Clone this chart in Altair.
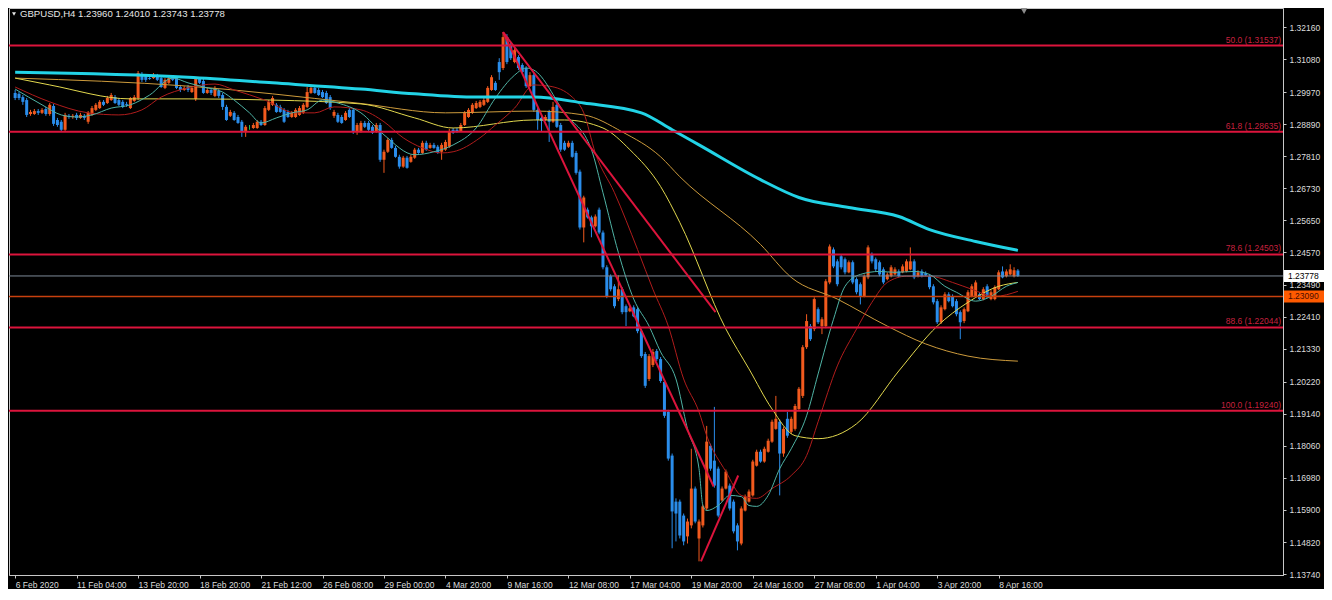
import json
import pandas as pd
import altair as alt

# ---------------- candles (H4 bars, index 0..261) ----------------
bars = list(range(262))

opens = [
    1.2994, 1.2991, 1.2980, 1.2970, 1.2923, 1.2923, 1.2933, 1.2927, 1.2940, 1.2923,
    1.2950, 1.2903, 1.2897, 1.2870, 1.2917, 1.2913, 1.2920, 1.2910, 1.2917, 1.2897,
    1.2920, 1.2937, 1.2943, 1.2964, 1.2960, 1.2970, 1.2980, 1.2970, 1.2964, 1.2957,
    1.2943, 1.2967, 1.2977, 1.3054, 1.3051, 1.3044, 1.3044, 1.3051, 1.3044, 1.3011,
    1.3028, 1.3047, 1.3044, 1.3014, 1.3004, 1.3014, 1.2997, 1.2974, 1.3041, 1.3034,
    1.2994, 1.3004, 1.2984, 1.3001, 1.2987, 1.2947, 1.2917, 1.2927, 1.2913, 1.2897,
    1.2866, 1.2878, 1.2876, 1.2876, 1.2897, 1.2886, 1.2937, 1.2954, 1.2954, 1.2947,
    1.2937, 1.2930, 1.2913, 1.2913, 1.2920, 1.2927, 1.2947, 1.2994, 1.3011, 1.3004,
    1.2997, 1.2994, 1.2980, 1.2917, 1.2920, 1.2913, 1.2903, 1.2937, 1.2937, 1.2863,
    1.2863, 1.2893, 1.2893, 1.2880, 1.2863, 1.2886, 1.2769, 1.2796, 1.2836, 1.2809,
    1.2779, 1.2746, 1.2776, 1.2762, 1.2776, 1.2803, 1.2792, 1.2826, 1.2809, 1.2819,
    1.2813, 1.2796, 1.2803, 1.2813, 1.2870, 1.2870, 1.2866, 1.2886, 1.2913, 1.2927,
    1.2943, 1.2947, 1.2954, 1.2964, 1.3004, 1.3028, 1.3098, 1.3078, 1.3182, 1.3155,
    1.3098, 1.3115, 1.3088, 1.3078, 1.3017, 1.3054, 1.2937, 1.2910, 1.2903, 1.2930,
    1.2897, 1.2954, 1.2886, 1.2826, 1.2813, 1.2826, 1.2792, 1.2729, 1.2541, 1.2601,
    1.2575, 1.2545, 1.2601, 1.2524, 1.2407, 1.2377, 1.2343, 1.2300, 1.2333, 1.2276,
    1.2259, 1.2272, 1.2266, 1.2192, 1.2115, 1.2031, 1.2078, 1.2125, 1.2098, 1.2021,
    1.1920, 1.1773, 1.1618, 1.1618, 1.1571, 1.1501, 1.1538, 1.1662, 1.1494, 1.1538,
    1.1595, 1.1806, 1.1756, 1.1729, 1.1622, 1.1662, 1.1672, 1.1618, 1.1538, 1.1477,
    1.1588, 1.1618, 1.1639, 1.1739, 1.1786, 1.1753, 1.1786, 1.1820, 1.1863, 1.1887,
    1.1780, 1.1897, 1.1853, 1.1863, 1.1930, 1.1974, 1.2138, 1.2209, 1.2199, 1.2266,
    1.2209, 1.2209, 1.2356, 1.2467, 1.2427, 1.2444, 1.2434, 1.2390, 1.2424, 1.2367,
    1.2350, 1.2309, 1.2373, 1.2451, 1.2434, 1.2424, 1.2400, 1.2367, 1.2377, 1.2383,
    1.2393, 1.2390, 1.2393, 1.2400, 1.2427, 1.2377, 1.2393, 1.2387, 1.2377, 1.2343,
    1.2293, 1.2222, 1.2266, 1.2316, 1.2309, 1.2293, 1.2256, 1.2226, 1.2259, 1.2309,
    1.2309, 1.2316, 1.2300, 1.2343, 1.2300, 1.2300, 1.2333, 1.2393, 1.2377, 1.2383,
    1.2377, 1.23960,
]

highs = [
    1.3004, 1.2997, 1.2987, 1.2977, 1.2937, 1.2940, 1.2940, 1.2943, 1.2947, 1.2960,
    1.2957, 1.2910, 1.2903, 1.2927, 1.2923, 1.2923, 1.2927, 1.2927, 1.2923, 1.2933,
    1.2950, 1.2960, 1.2970, 1.2970, 1.2984, 1.2994, 1.2987, 1.2977, 1.2970, 1.2964,
    1.2980, 1.2987, 1.3068, 1.3064, 1.3058, 1.3051, 1.3061, 1.3058, 1.3051, 1.3044,
    1.3051, 1.3054, 1.3051, 1.3021, 1.3017, 1.3021, 1.3017, 1.3047, 1.3047, 1.3041,
    1.3011, 1.3011, 1.3017, 1.3007, 1.2994, 1.2954, 1.2937, 1.2933, 1.2920, 1.2903,
    1.2886, 1.2886, 1.2893, 1.2903, 1.2903, 1.2950, 1.2970, 1.2984, 1.2960, 1.2954,
    1.2943, 1.2937, 1.2933, 1.2943, 1.2950, 1.2960, 1.3014, 1.3017, 1.3017, 1.3011,
    1.3004, 1.3001, 1.2987, 1.2937, 1.2927, 1.2920, 1.2933, 1.2943, 1.2943, 1.2893,
    1.2900, 1.2900, 1.2900, 1.2886, 1.2893, 1.2893, 1.2803, 1.2843, 1.2843, 1.2816,
    1.2786, 1.2782, 1.2782, 1.2786, 1.2809, 1.2809, 1.2833, 1.2833, 1.2826, 1.2826,
    1.2819, 1.2826, 1.2836, 1.2873, 1.2876, 1.2876, 1.2893, 1.2933, 1.2943, 1.2960,
    1.2967, 1.2970, 1.2977, 1.3017, 1.3054, 1.3034, 1.3111, 1.3199, 1.3192, 1.3162,
    1.3145, 1.3121, 1.3094, 1.3084, 1.3064, 1.3061, 1.2943, 1.2917, 1.2920, 1.2937,
    1.2964, 1.2960, 1.2893, 1.2833, 1.2833, 1.2833, 1.2799, 1.2736, 1.2648, 1.2608,
    1.2581, 1.2585, 1.2608, 1.2531, 1.2414, 1.2383, 1.2350, 1.2380, 1.2340, 1.2282,
    1.2276, 1.2279, 1.2272, 1.2199, 1.2122, 1.2115, 1.2132, 1.2132, 1.2105, 1.2028,
    1.1927, 1.1780, 1.1629, 1.1625, 1.1578, 1.1561, 1.1796, 1.1669, 1.1558, 1.1608,
    1.1873, 1.1813, 1.1937, 1.1736, 1.1669, 1.1726, 1.1679, 1.1625, 1.1545, 1.1602,
    1.1642, 1.1659, 1.1759, 1.1793, 1.1793, 1.1803, 1.1830, 1.1894, 1.1974, 1.1894,
    1.1870, 1.1920, 1.1904, 1.1947, 1.2004, 1.2145, 1.2249, 1.2216, 1.2306, 1.2272,
    1.2239, 1.2367, 1.2484, 1.2474, 1.2434, 1.2451, 1.2440, 1.2430, 1.2430, 1.2373,
    1.2356, 1.2383, 1.2481, 1.2457, 1.2440, 1.2430, 1.2407, 1.2390, 1.2414, 1.2407,
    1.2400, 1.2417, 1.2434, 1.2474, 1.2434, 1.2397, 1.2400, 1.2393, 1.2383, 1.2350,
    1.2300, 1.2279, 1.2323, 1.2323, 1.2316, 1.2300, 1.2262, 1.2272, 1.2330, 1.2350,
    1.2363, 1.2323, 1.2340, 1.2350, 1.2330, 1.2346, 1.2397, 1.2410, 1.2400, 1.2417,
    1.2407, 1.24010,
]

lows = [
    1.2970, 1.2970, 1.2954, 1.2913, 1.2917, 1.2920, 1.2920, 1.2923, 1.2917, 1.2917,
    1.2883, 1.2880, 1.2863, 1.2866, 1.2907, 1.2907, 1.2903, 1.2907, 1.2903, 1.2890,
    1.2917, 1.2933, 1.2940, 1.2950, 1.2957, 1.2967, 1.2957, 1.2950, 1.2943, 1.2947,
    1.2940, 1.2964, 1.2970, 1.3031, 1.3031, 1.3038, 1.3041, 1.3034, 1.3011, 1.3007,
    1.3024, 1.3034, 1.3007, 1.2997, 1.3001, 1.2997, 1.2994, 1.2967, 1.3024, 1.2991,
    1.2991, 1.2987, 1.2980, 1.2977, 1.2937, 1.2900, 1.2913, 1.2900, 1.2890, 1.2846,
    1.2846, 1.2870, 1.2873, 1.2873, 1.2883, 1.2883, 1.2933, 1.2950, 1.2927, 1.2927,
    1.2893, 1.2910, 1.2910, 1.2910, 1.2917, 1.2923, 1.2943, 1.2991, 1.2991, 1.2984,
    1.2977, 1.2957, 1.2937, 1.2910, 1.2893, 1.2890, 1.2900, 1.2910, 1.2856, 1.2853,
    1.2860, 1.2876, 1.2866, 1.2856, 1.2860, 1.2762, 1.2725, 1.2792, 1.2806, 1.2776,
    1.2739, 1.2742, 1.2739, 1.2759, 1.2772, 1.2789, 1.2789, 1.2799, 1.2806, 1.2806,
    1.2789, 1.2769, 1.2799, 1.2809, 1.2856, 1.2860, 1.2863, 1.2883, 1.2910, 1.2923,
    1.2940, 1.2943, 1.2950, 1.2960, 1.3001, 1.3001, 1.3038, 1.3071, 1.3091, 1.3105,
    1.3094, 1.3071, 1.3061, 1.3011, 1.3014, 1.2930, 1.2870, 1.2863, 1.2900, 1.2829,
    1.2893, 1.2876, 1.2796, 1.2799, 1.2809, 1.2776, 1.2719, 1.2534, 1.2491, 1.2571,
    1.2508, 1.2541, 1.2518, 1.2400, 1.2303, 1.2326, 1.2269, 1.2293, 1.2249, 1.2209,
    1.2256, 1.2239, 1.2185, 1.2102, 1.2001, 1.2024, 1.2071, 1.2091, 1.2018, 1.1900,
    1.1756, 1.1461, 1.1484, 1.1494, 1.1471, 1.1477, 1.1528, 1.1545, 1.1417, 1.1531,
    1.1588, 1.1722, 1.1665, 1.1565, 1.1618, 1.1659, 1.1588, 1.1511, 1.1454, 1.1471,
    1.1585, 1.1615, 1.1635, 1.1736, 1.1749, 1.1749, 1.1783, 1.1816, 1.1860, 1.1639,
    1.1769, 1.1833, 1.1846, 1.1857, 1.1927, 1.1967, 1.2132, 1.2159, 1.2192, 1.2216,
    1.2182, 1.2202, 1.2350, 1.2404, 1.2343, 1.2400, 1.2383, 1.2387, 1.2350, 1.2316,
    1.2282, 1.2306, 1.2367, 1.2420, 1.2393, 1.2377, 1.2350, 1.2363, 1.2373, 1.2380,
    1.2373, 1.2387, 1.2390, 1.2397, 1.2367, 1.2373, 1.2373, 1.2377, 1.2333, 1.2282,
    1.2216, 1.2216, 1.2262, 1.2289, 1.2272, 1.2242, 1.2165, 1.2219, 1.2256, 1.2306,
    1.2306, 1.2296, 1.2296, 1.2303, 1.2296, 1.2296, 1.2330, 1.2370, 1.2373, 1.2380,
    1.2373, 1.23743,
]

closes = [
    1.2977, 1.2977, 1.2964, 1.2920, 1.2930, 1.2933, 1.2927, 1.2937, 1.2923, 1.2954,
    1.2890, 1.2886, 1.2870, 1.2920, 1.2913, 1.2917, 1.2910, 1.2920, 1.2910, 1.2927,
    1.2943, 1.2954, 1.2964, 1.2954, 1.2977, 1.2987, 1.2960, 1.2954, 1.2947, 1.2954,
    1.2977, 1.2980, 1.3061, 1.3038, 1.3038, 1.3041, 1.3054, 1.3038, 1.3014, 1.3038,
    1.3044, 1.3038, 1.3011, 1.3004, 1.3011, 1.3004, 1.3011, 1.3041, 1.3028, 1.2994,
    1.3004, 1.2994, 1.3011, 1.2984, 1.2947, 1.2903, 1.2930, 1.2903, 1.2893, 1.2863,
    1.2880, 1.2878, 1.2886, 1.2897, 1.2886, 1.2943, 1.2964, 1.2977, 1.2930, 1.2930,
    1.2897, 1.2913, 1.2927, 1.2937, 1.2943, 1.2954, 1.2997, 1.3011, 1.2994, 1.2987,
    1.2980, 1.2960, 1.2943, 1.2930, 1.2897, 1.2893, 1.2927, 1.2913, 1.2863, 1.2886,
    1.2893, 1.2880, 1.2870, 1.2860, 1.2886, 1.2769, 1.2796, 1.2836, 1.2809, 1.2779,
    1.2746, 1.2776, 1.2742, 1.2779, 1.2803, 1.2792, 1.2826, 1.2803, 1.2819, 1.2809,
    1.2792, 1.2819, 1.2829, 1.2866, 1.2860, 1.2863, 1.2886, 1.2927, 1.2937, 1.2954,
    1.2960, 1.2964, 1.2970, 1.3011, 1.3047, 1.3004, 1.3064, 1.3182, 1.3098, 1.3111,
    1.3138, 1.3078, 1.3064, 1.3017, 1.3054, 1.2937, 1.2903, 1.2900, 1.2913, 1.2897,
    1.2947, 1.2880, 1.2803, 1.2803, 1.2826, 1.2779, 1.2725, 1.2541, 1.2642, 1.2575,
    1.2545, 1.2578, 1.2524, 1.2407, 1.2309, 1.2333, 1.2276, 1.2333, 1.2256, 1.2256,
    1.2269, 1.2242, 1.2192, 1.2108, 1.2008, 1.2108, 1.2122, 1.2098, 1.2024, 1.1907,
    1.1763, 1.1585, 1.1578, 1.1504, 1.1484, 1.1551, 1.1662, 1.1551, 1.1551, 1.1602,
    1.1820, 1.1729, 1.1672, 1.1571, 1.1662, 1.1719, 1.1595, 1.1518, 1.1484, 1.1595,
    1.1635, 1.1652, 1.1753, 1.1786, 1.1753, 1.1796, 1.1823, 1.1887, 1.1897, 1.1780,
    1.1863, 1.1840, 1.1897, 1.1940, 1.1998, 1.2138, 1.2226, 1.2165, 1.2300, 1.2222,
    1.2232, 1.2360, 1.2477, 1.2410, 1.2350, 1.2407, 1.2390, 1.2424, 1.2356, 1.2323,
    1.2309, 1.2377, 1.2474, 1.2427, 1.2400, 1.2383, 1.2356, 1.2383, 1.2407, 1.2400,
    1.2377, 1.2410, 1.2427, 1.2427, 1.2373, 1.2390, 1.2377, 1.2380, 1.2340, 1.2289,
    1.2222, 1.2272, 1.2316, 1.2293, 1.2276, 1.2249, 1.2222, 1.2266, 1.2323, 1.2343,
    1.2356, 1.2300, 1.2333, 1.2306, 1.2323, 1.2340, 1.2390, 1.2373, 1.2393, 1.2400,
    1.2397, 1.23778,
]

for arr in (opens, highs, lows, closes):
    assert len(arr) == len(bars), len(arr)

# ---------------- axis ticks ----------------
tick_bars = [0, 16, 32, 48, 64, 80, 96, 112, 128, 144, 160, 176, 192, 208, 224, 240, 256]
tick_labels = ["6 Feb 2020", "11 Feb 04:00", "13 Feb 20:00", "18 Feb 20:00", "21 Feb 12:00",
               "26 Feb 08:00", "29 Feb 00:00", "4 Mar 20:00", "9 Mar 16:00", "12 Mar 08:00",
               "17 Mar 04:00", "19 Mar 20:00", "24 Mar 16:00", "27 Mar 08:00", "1 Apr 04:00",
               "3 Apr 20:00", "8 Apr 16:00"]
y_ticks = [1.32160, 1.31080, 1.29970, 1.28890, 1.27810, 1.26730, 1.25650, 1.24570, 1.23490,
           1.22410, 1.21330, 1.20220, 1.19140, 1.18060, 1.16980, 1.15900, 1.14820, 1.13740]

# ---------------- moving averages (read at sample bars) ----------------
ma_cyan_bars = [0, 45, 67, 90, 104, 120, 135, 148, 163, 171, 178, 194, 204, 217, 230, 238, 250, 261]
ma_cyan_vals = [1.3064, 1.3047, 1.3028, 1.3007, 1.2991, 1.2980, 1.2980, 1.2960, 1.2927, 1.2870,
                1.2819, 1.2702, 1.2642, 1.2608, 1.2578, 1.2534, 1.2494, 1.2464]

ma_orange_bars = [0, 45, 89, 112, 135, 148, 158, 168, 173, 194, 202, 214, 227, 237, 248, 261]
ma_orange_vals = [1.3044, 1.3017, 1.2960, 1.2927, 1.2933, 1.2920, 1.2863, 1.2779, 1.2712, 1.2484,
                  1.2373, 1.2300, 1.2209, 1.2149, 1.2108, 1.2091]

ma_yellow_bars = [0, 9, 30, 45, 67, 90, 104, 114, 135, 143, 153, 160, 168, 173, 185, 191, 197,
                  203, 209, 219, 230, 240, 248, 256, 261]
ma_yellow_vals = [1.3044, 1.3021, 1.2974, 1.2974, 1.2970, 1.2957, 1.2910, 1.2876, 1.2903, 1.2903,
                  1.2876, 1.2803, 1.2679, 1.2558, 1.2199, 1.2065, 1.1930, 1.1840, 1.1830, 1.1880,
                  1.2058, 1.2209, 1.2289, 1.2343, 1.2356]

ma_red_bars = [0, 9, 19, 27, 33, 38, 45, 52, 57, 65, 73, 78, 83, 90, 96, 101, 106, 111, 114, 121,
               125, 130, 135, 139, 145, 148, 151, 156, 162, 166, 170, 174, 178, 180, 185, 189, 193,
               197, 202, 206, 209, 214, 219, 223, 227, 232, 238, 244, 249, 255, 261]
ma_red_vals = [1.3014, 1.2964, 1.2927, 1.2920, 1.2937, 1.2980, 1.3011, 1.3024, 1.3004, 1.2970,
               1.2927, 1.2927, 1.2947, 1.2937, 1.2897, 1.2843, 1.2809, 1.2792, 1.2796, 1.2843,
               1.2886, 1.2943, 1.3021, 1.3017, 1.2980, 1.2927, 1.2792, 1.2658, 1.2467, 1.2333,
               1.2209, 1.2031, 1.1920, 1.1840, 1.1719, 1.1639, 1.1629, 1.1662, 1.1706, 1.1773,
               1.1887, 1.2075, 1.2199, 1.2289, 1.2356, 1.2377, 1.2377, 1.2356, 1.2333, 1.2309,
               1.2326]

ma_teal_bars = [0, 7, 12, 16, 20, 25, 30, 35, 41, 45, 49, 54, 57, 61, 64, 68, 72, 76, 80, 84,
                90, 96, 104, 109, 114, 120, 125, 130, 133, 135, 143, 150, 153, 157, 161, 165, 168,
                172, 175, 178, 179, 180, 183, 186, 189, 191, 193, 196, 199, 202, 206, 209, 213,
                216, 220, 225, 229, 234, 238, 242, 245, 250, 254, 258, 261]
ma_teal_vals = [1.3007, 1.2954, 1.2920, 1.2913, 1.2920, 1.2943, 1.2954, 1.2987, 1.3044, 1.3028,
                1.3014, 1.2997, 1.2970, 1.2927, 1.2893, 1.2910, 1.2927, 1.2937, 1.2970, 1.2960,
                1.2927, 1.2853, 1.2786, 1.2796, 1.2819, 1.2876, 1.2977, 1.3054, 1.3078, 1.3071,
                1.2927, 1.2803, 1.2658, 1.2457, 1.2300, 1.2209, 1.2122, 1.2031, 1.1863, 1.1729,
                1.1605, 1.1588, 1.1605, 1.1639, 1.1635, 1.1605, 1.1602, 1.1639, 1.1729, 1.1796,
                1.1907, 1.2048, 1.2232, 1.2343, 1.2383, 1.2393, 1.2390, 1.2393, 1.2383, 1.2343,
                1.2323, 1.2293, 1.2309, 1.2343, 1.2356]

# ---------------- objects ----------------
fib_levels = ["50.0", "61.8", "78.6", "88.6", "100.0"]
fib_prices = [1.31537, 1.28635, 1.24503, 1.22044, 1.19240]

trend_bar0 = [127, 127, 178.5]
trend_p0 = [1.3199, 1.3199, 1.1417]
trend_bar1 = [182.3, 181.8, 188.2]
trend_p1 = [1.2256, 1.1669, 1.1706]

bid_price = [1.23778]
order_price = [1.23090]
shift_marker_bar = [262.6]
header_text = ["GBPUSD,H4  1.23960 1.24010 1.23743 1.23778"]

# ---------------- styling ----------------
W, H = 1274, 567
ORANGE = "#F25A1E"
BLUE = "#2A8DEB"
DOJI = "#20C050"
CRIMSON = "#DC143C"
AXIS_C = "#c8c8c8"
LABEL_C = "#dcdcdc"
FS = 8.5

candles = pd.DataFrame({"bar": bars, "open": opens, "high": highs, "low": lows, "close": closes})
candles["dir"] = ["up" if c > o else ("down" if c < o else "flat") for o, c in zip(opens, closes)]

xs = alt.Scale(domain=[-0.3, 328.7], nice=False, zero=False)
ys = alt.Scale(domain=[1.1371, 1.3280], nice=False, zero=False)

label_expr = json.dumps(tick_labels) + "[indexof(" + json.dumps(tick_bars) + ", datum.value)]"
x_axis = alt.Axis(values=tick_bars, labelExpr=label_expr, title=None, grid=False, orient="bottom",
                  tickSize=3, tickColor=AXIS_C, domainColor=AXIS_C, labelColor=LABEL_C,
                  labelFontSize=FS, labelAlign="left", labelBaseline="top", labelPadding=2,
                  labelOverlap=False, labelFlush=False)
y_axis = alt.Axis(values=y_ticks, format=".5f", title=None, grid=False, orient="right",
                  tickSize=3, tickColor=AXIS_C, domainColor=AXIS_C, labelColor=LABEL_C,
                  labelFontSize=FS, labelPadding=3, labelOverlap=False, labelFlush=False)


def X(f):
    return alt.X(f, type="quantitative", scale=xs, axis=x_axis)


def Y(f):
    return alt.Y(f, type="quantitative", scale=ys, axis=y_axis)


color_enc = alt.Color("dir:N", scale=alt.Scale(domain=["up", "down", "flat"], range=[ORANGE, BLUE, DOJI]),
                      legend=None)

wicks = alt.Chart(candles).mark_rule(strokeWidth=1).encode(x=X("bar"), y=Y("low"), y2="high", color=color_enc)
bodies = alt.Chart(candles).mark_bar(size=3).encode(x=X("bar"), y=Y("open"), y2="close", color=color_enc)


def ma_layer(b, v, color, width):
    df = pd.DataFrame({"bar": b, "val": v})
    return alt.Chart(df).mark_line(color=color, strokeWidth=width, interpolate="monotone").encode(
        x=X("bar"), y=Y("val"))


ma_layers = [
    ma_layer(ma_orange_bars, ma_orange_vals, "#CD9B3C", 1),
    ma_layer(ma_yellow_bars, ma_yellow_vals, "#E2D84E", 1),
    ma_layer(ma_red_bars, ma_red_vals, "#B01C1C", 1),
    ma_layer(ma_teal_bars, ma_teal_vals, "#4FB3A5", 1),
    ma_layer(ma_cyan_bars, ma_cyan_vals, "#22D3E6", 3),
]

fib_df = pd.DataFrame({"price": fib_prices,
                       "label": [f"{l}  ({p:.5f})" for l, p in zip(fib_levels, fib_prices)]})
fib_rules = alt.Chart(fib_df).mark_rule(color=CRIMSON, strokeWidth=2).encode(y=Y("price"))
fib_text = alt.Chart(fib_df).mark_text(align="right", baseline="bottom", dy=-1, color="#C8203F",
                                       fontSize=FS).encode(x=alt.value(W - 2), y=Y("price"), text="label:N")

trend_df = pd.DataFrame({"b0": trend_bar0, "p0": trend_p0, "b1": trend_bar1, "p1": trend_p1})
trend = alt.Chart(trend_df).mark_rule(color=CRIMSON, strokeWidth=2).encode(
    x=X("b0"), y=Y("p0"), x2="b1", y2="p1")

bid_df = pd.DataFrame({"price": bid_price, "txt": [f"{p:.5f}" for p in bid_price]})
order_df = pd.DataFrame({"price": order_price, "txt": [f"{p:.5f}" for p in order_price]})
bid_line = alt.Chart(bid_df).mark_rule(color="#7d8a99", strokeWidth=1).encode(y=Y("price"))
order_line = alt.Chart(order_df).mark_rule(color="#C8400E", strokeWidth=1.5).encode(y=Y("price"))

box_shape = "M0,-0.3L2,-0.3L2,0.3L0,0.3Z"
bid_box = alt.Chart(bid_df).mark_point(shape=box_shape, size=1600, filled=True, opacity=1, strokeWidth=0,
                                       color="#FFFFFF", clip=False).encode(x=alt.value(W + 1), y=Y("price"))
bid_txt = alt.Chart(bid_df).mark_text(align="left", baseline="middle", fontSize=FS, color="#000000",
                                      clip=False).encode(x=alt.value(W + 5), y=Y("price"), text="txt:N")
order_box = alt.Chart(order_df).mark_point(shape=box_shape, size=1600, filled=True, opacity=1, strokeWidth=0,
                                           color="#FF5A00", clip=False).encode(x=alt.value(W + 1), y=Y("price"))
order_txt = alt.Chart(order_df).mark_text(align="left", baseline="middle", fontSize=FS, color="#4a0c00",
                                          clip=False).encode(x=alt.value(W + 5), y=Y("price"), text="txt:N")

shift_df = pd.DataFrame({"bar": shift_marker_bar})
shift_mark = alt.Chart(shift_df).mark_point(shape="triangle-down", filled=True, size=45, opacity=1,
                                            color="#8c8c8c").encode(x=X("bar"), y=alt.value(3))

head_df = pd.DataFrame({"t": header_text})
head_tri = alt.Chart(head_df).mark_point(shape="triangle-down", filled=True, size=16, opacity=1,
                                         color="#e6e6e6").encode(x=alt.value(5), y=alt.value(6))
head_txt = alt.Chart(head_df).mark_text(align="left", baseline="middle", fontSize=9.6, color="#e6e6e6").encode(
    x=alt.value(11), y=alt.value(6), text="t:N")

chart = alt.layer(
    wicks, bodies, *ma_layers, bid_line, order_line, fib_rules, trend, fib_text,
    bid_box, bid_txt, order_box, order_txt, shift_mark, head_tri, head_txt
).properties(
    width=W, height=H, padding={"left": 0, "top": 0, "right": 0, "bottom": 0}
).configure(
    background="#000000", font="Liberation Sans"
).configure_view(
    stroke=AXIS_C, strokeWidth=1, fill="#000000"
)

chart.save("out.html", embed_options={"renderer": "svg", "actions": False})
